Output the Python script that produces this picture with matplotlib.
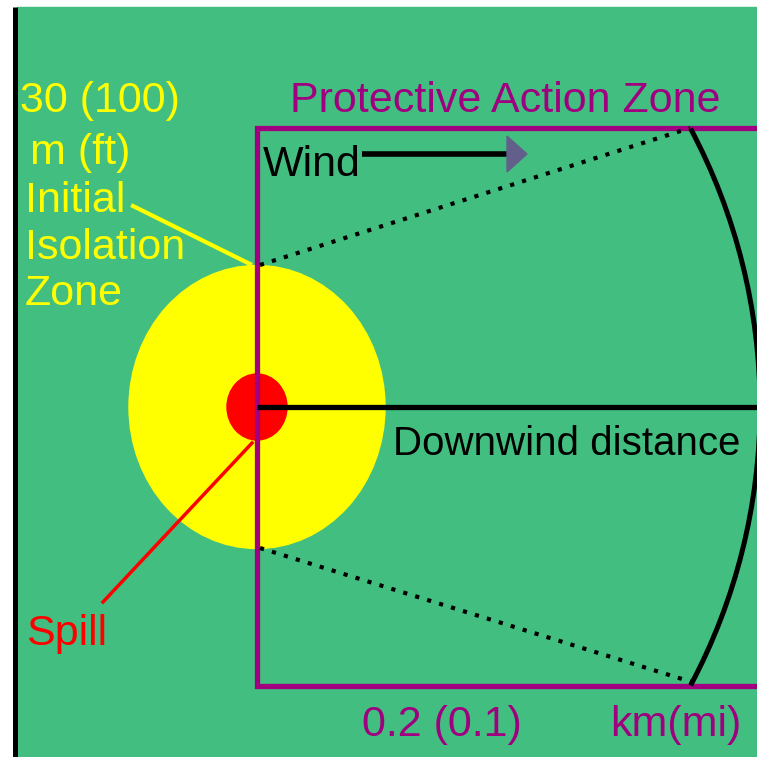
import matplotlib.pyplot as plt
from matplotlib.patches import Rectangle, Ellipse, Arc, Polygon

# canvas is 757 x 757 px, all coordinates below are in pixels (y down)
W, H = 757, 757
green = "#42BF80"
purple = "#A0007F"
yellow = "#FFFF00"
red = "#FF0000"

# zones
spill_xy = (257, 407)
isolation_size = (256, 283)      # width, height of the yellow zone
spill_size = (60, 66)            # red spill blob
paz_left, paz_top, paz_bottom = 257, 128, 686
wedge_upper = ([260, 690], [265, 128])
wedge_lower = ([260, 695], [548, 683])
arc_center = (167, 407)
arc_radius = 593
downwind_line = ([257, 757], [407, 407])
wind_arrow = ([362, 508], [154, 154])
wind_head = [[507, 136], [527, 154], [507, 172]]
spill_leader = ([252, 103], [443, 602])
iso_leader = ([133, 250], [206, 264])

# labels: text, x, baseline y, colour, size
labels = [
    ("30 (100)", 20, 112, yellow, 31),
    ("m (ft)", 30, 164, yellow, 31),
    ("Initial", 25, 212, yellow, 31),
    ("Isolation", 25, 259, yellow, 31),
    ("Zone", 25, 305, yellow, 31),
    ("Protective Action Zone", 290, 112, purple, 31),
    ("Wind", 263, 176, "black", 31),
    ("Downwind distance", 393, 455, "black", 29),
    ("0.2 (0.1)", 362, 736, purple, 31),
    ("km(mi)", 610, 736, purple, 31),
    ("Spill", 26, 645, red, 31),
]

fig = plt.figure(figsize=(7.57, 7.57), dpi=100, facecolor="white")
ax = fig.add_axes([0, 0, 1, 1])
ax.set_xlim(0, W)
ax.set_ylim(H, 0)
ax.axis("off")

ax.add_patch(Rectangle((17, 7), W - 17, H - 7, color=green, zorder=0))
ax.plot([14.5, 14.5], [7, H], color="black", lw=3.6, solid_capstyle="butt")

ax.add_patch(Ellipse(spill_xy, *isolation_size, color=yellow, zorder=1))

# protective action zone box (open on the right)
ax.plot([W + 5, paz_left, paz_left, W + 5], [paz_top, paz_top, paz_bottom, paz_bottom],
        color=purple, lw=3.8, zorder=3, solid_joinstyle="miter")

ax.add_patch(Ellipse(spill_xy, *spill_size, color=red, zorder=2))
ax.plot(*spill_leader, color=red, lw=2.5, zorder=2)

ax.plot(*downwind_line, color="black", lw=3.8, zorder=4, solid_capstyle="butt")
ax.plot(*wedge_upper, color="black", lw=3, ls=(0, (1, 2)), zorder=4)
ax.plot(*wedge_lower, color="black", lw=3, ls=(0, (1, 2)), zorder=4)
ax.add_patch(Arc(arc_center, 2 * arc_radius, 2 * arc_radius, theta1=-28, theta2=28,
                 color="black", lw=3.6, zorder=4))

ax.plot(*iso_leader, color=yellow, lw=3, zorder=2)

# wind arrow
ax.plot(*wind_arrow, color="black", lw=4, solid_capstyle="butt", zorder=4)
ax.add_patch(Polygon(wind_head, color="#62608A", zorder=4))

for text, x, y, c, size in labels:
    ax.text(x, y, text, color=c, fontsize=size, ha="left", va="baseline",
            family=["Liberation Sans", "DejaVu Sans"], zorder=5)

fig.savefig("out.png", dpi=100, facecolor="white")
